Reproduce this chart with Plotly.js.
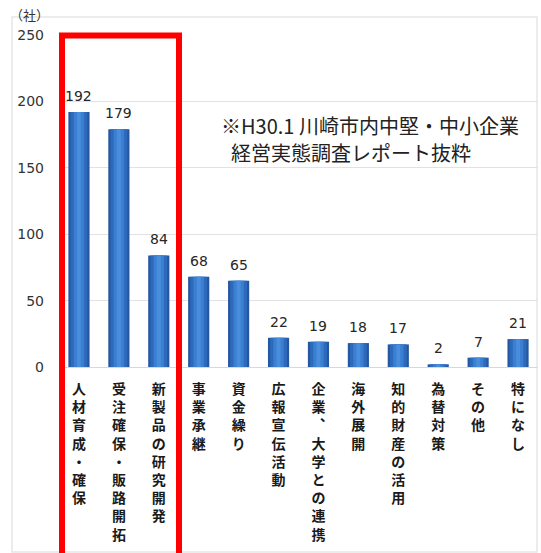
<!DOCTYPE html>
<html>
<head>
<meta charset="utf-8">
<script src="https://cdn.plot.ly/plotly-3.0.1.min.js"></script>
<style>html,body{margin:0;padding:0;background:#fff;}#chart{width:541px;height:553px;}</style>
</head>
<body>
<div id="chart"></div>
<script>
// ---- data ----
const categories = ["人材育成・確保", "受注確保・販路開拓", "新製品の研究開発", "事業承継", "資金繰り", "広報宣伝活動", "企業︑大学との連携", "海外展開", "知的財産の活用", "為替対策", "その他", "特になし"];
const values = [192, 179, 84, 68, 65, 22, 19, 18, 17, 2, 7, 21];
const yTickVals = [0, 50, 100, 150, 200, 250];
const unitLabel = "（社）";
const noteLine1 = "※H30.1 川崎市内中堅・中小企業";
const noteLine2 = "経営実態調査レポート抜粋";

// ---- geometry helpers (pixel -> paper) ----
const W = 541, H = 553;
const M = {l: 59, r: 3, t: 35, b: 186};
const PW = W - M.l - M.r, PH = H - M.t - M.b;
const px = x => (x - M.l) / PW;
const py = y => (H - M.b - y) / PH;

const verticalText = s => Array.from(s).join("<br>");

const layers = [
  {w: 0.53, c: "#24579f"},
  {w: 0.42, c: "#2e6abb"},
  {w: 0.26, c: "#3b7fd2"},
  {w: 0.10, c: "#4a8ddc"}
];
const traces = layers.map(L => ({
  type: "bar",
  x: categories,
  y: values,
  width: L.w,
  marker: {color: L.c, line: {width: 0}},
  hoverinfo: "skip",
  showlegend: false
}));

const valueAnnotations = categories.map((c, i) => ({
  x: c, y: values[i], xref: "x", yref: "y",
  text: String(values[i]), showarrow: false,
  yshift: 16, yanchor: "middle",
  font: {family: "DejaVu Sans", size: 14, color: "#262626"}
}));

const layout = {
  width: W, height: H, autosize: false,
  margin: M,
  paper_bgcolor: "#fff", plot_bgcolor: "#fff",
  barmode: "overlay",
  font: {family: "Noto Sans CJK JP"},
  xaxis: {
    type: "category",
    tickvals: categories,
    ticktext: categories.map(verticalText),
    tickfont: {family: "Noto Sans CJK JP", size: 14, color: "#1a1a1a", weight: 600},
    tickangle: 0,
    ticks: "", showgrid: false, showline: false, zeroline: false,
    ticklabelstandoff: 12,
    fixedrange: true
  },
  yaxis: {
    range: [0, 250],
    tickvals: yTickVals,
    ticktext: yTickVals.map(String),
    tickfont: {family: "DejaVu Sans", size: 14, color: "#333"},
    ticks: "", showline: false,
    showgrid: true, gridcolor: "#e2e2e2", gridwidth: 1,
    zeroline: true, zerolinecolor: "#d8d8d8", zerolinewidth: 1,
    ticklabelstandoff: 14,
    fixedrange: true
  },
  shapes: [
    {type: "rect", xref: "paper", yref: "paper",
     x0: px(12), x1: px(537), y0: py(552), y1: py(17),
     line: {color: "#e6e6e6", width: 1.5}, layer: "below"},
    {type: "rect", xref: "paper", yref: "paper",
     x0: px(62), x1: px(179), y0: py(556), y1: py(35.5),
     line: {color: "#ff0000", width: 6}}
  ],
  annotations: valueAnnotations.concat([
    {xref: "paper", yref: "paper", x: px(29), y: py(15), text: unitLabel,
     showarrow: false, xanchor: "center", yanchor: "middle",
     font: {family: "Noto Sans CJK JP", size: 13, color: "#333"}},
    {xref: "paper", yref: "paper", x: px(219), y: py(126), text: noteLine1,
     showarrow: false, xanchor: "left", yanchor: "middle",
     font: {family: "Noto Sans CJK JP", size: 20, color: "#222"}},
    {xref: "paper", yref: "paper", x: px(229), y: py(152), text: noteLine2,
     showarrow: false, xanchor: "left", yanchor: "middle",
     font: {family: "Noto Sans CJK JP", size: 20, color: "#222"}}
  ])
};

Plotly.newPlot("chart", traces, layout, {displayModeBar: false, staticPlot: true});
</script>
</body>
</html>
